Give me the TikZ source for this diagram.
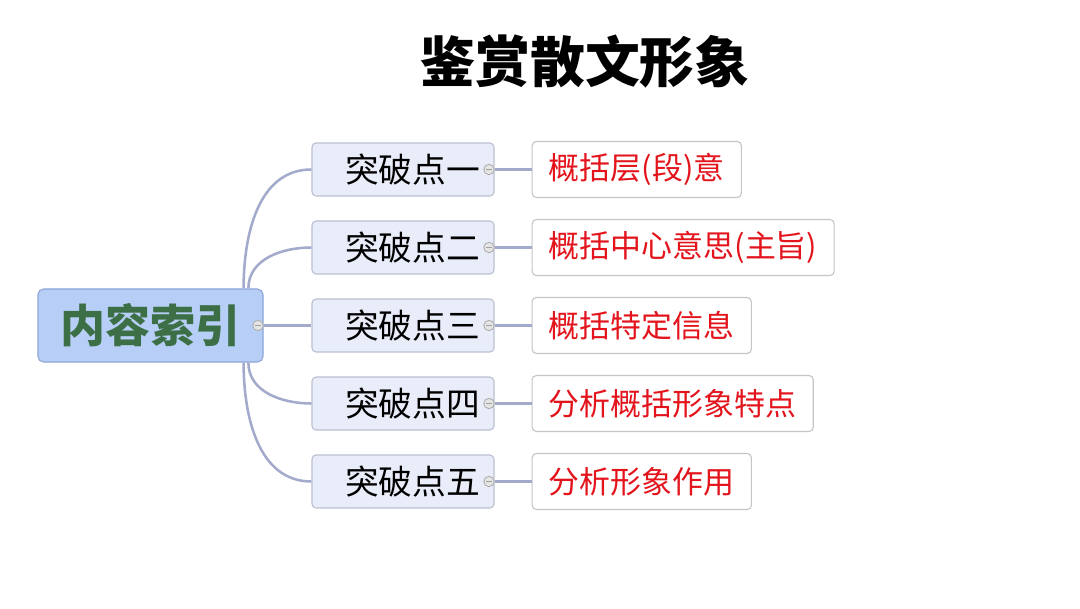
\documentclass[tikz,border=0pt]{standalone}
\usepackage{fontspec}
\setmainfont{Noto Sans CJK SC}
\usetikzlibrary{positioning}
\definecolor{rootblue}{HTML}{B7CFF6}
\definecolor{rootedge}{HTML}{8EA6D6}
\definecolor{rootgreen}{HTML}{3D6F47}
\definecolor{pointfill}{HTML}{E9EDF9}
\definecolor{pointedge}{HTML}{BCC1D2}
\definecolor{branchline}{HTML}{A3AACB}
\definecolor{leafedge}{HTML}{C6C6C6}
\definecolor{leafred}{HTML}{E3141C}
\begin{document}
\begin{tikzpicture}[x=0.025cm,y=0.025cm,every node/.style={inner sep=0pt},
  rootbox/.style={draw=rootedge,line width=0.8pt,rounded corners=4pt,fill=rootblue,minimum width=5.625cm,minimum height=1.825cm,font=\fontsize{32}{34}\selectfont\bfseries,text=rootgreen},
  pointbox/.style={draw=pointedge,line width=0.8pt,rounded corners=3pt,fill=pointfill,minimum height=1.325cm,text width=3.85cm,inner xsep=0.35cm,align=right,font=\fontsize{24}{26}\selectfont},
  leafbox/.style={draw=leafedge,line width=0.8pt,rounded corners=3pt,fill=white,minimum height=1.4cm,inner xsep=0.42cm,font=\fontsize{22}{24}\selectfont,text=leafred},
  branch/.style={draw=branchline,line width=1.8pt},
  knob/.style={draw=gray!65,fill=gray!20,line width=0.6pt}]
\fill[white] (0,0) rectangle (1080,608);
\useasboundingbox (0,0) rectangle (1080,608);
\node[font=\fontsize{39}{41}\selectfont\bfseries] (title) at (585,546) {鉴赏散文形象};
\node[rootbox] (root) at (150.5,282.5) {内容索引};
\node[pointbox] (p1) at (403,438.5) {突破点一};
\node[pointbox] (p2) at (403,360.5) {突破点二};
\node[pointbox] (p3) at (403,282.5) {突破点三};
\node[pointbox] (p4) at (403,204.5) {突破点四};
\node[pointbox] (p5) at (403,126.5) {突破点五};
\node[leafbox,right=0.925cm of p1] (l1) {概括层(段)意};
\node[leafbox,right=0.925cm of p2] (l2) {概括中心意思(主旨)};
\node[leafbox,right=0.925cm of p3] (l3) {概括特定信息};
\node[leafbox,right=0.925cm of p4] (l4) {分析概括形象特点};
\node[leafbox,right=0.925cm of p5] (l5) {分析形象作用};
% branches from the root
\draw[branch] ([xshift=-0.5cm]root.north east) to[out=90,in=180] (p1.west);
\draw[branch] ([xshift=-0.38cm]root.north east) to[out=90,in=180] (p2.west);
\draw[branch] (root.east) -- (p3.west);
\draw[branch] ([xshift=-0.38cm]root.south east) to[out=-90,in=180] (p4.west);
\draw[branch] ([xshift=-0.5cm]root.south east) to[out=-90,in=180] (p5.west);
\draw[branch] (p1.east) -- (l1.west);
\draw[branch] (p2.east) -- (l2.west);
\draw[branch] (p3.east) -- (l3.west);
\draw[branch] (p4.east) -- (l4.west);
\draw[branch] (p5.east) -- (l5.west);
% collapse knobs
\foreach \n in {root,p1,p2,p3,p4,p5}{
  \draw[knob] ([xshift=-0.14cm]\n.east) circle (0.13cm);
  \draw[gray!75,line width=0.8pt] ([xshift=-0.21cm]\n.east) -- ([xshift=-0.07cm]\n.east);
}
\end{tikzpicture}
\end{document}
